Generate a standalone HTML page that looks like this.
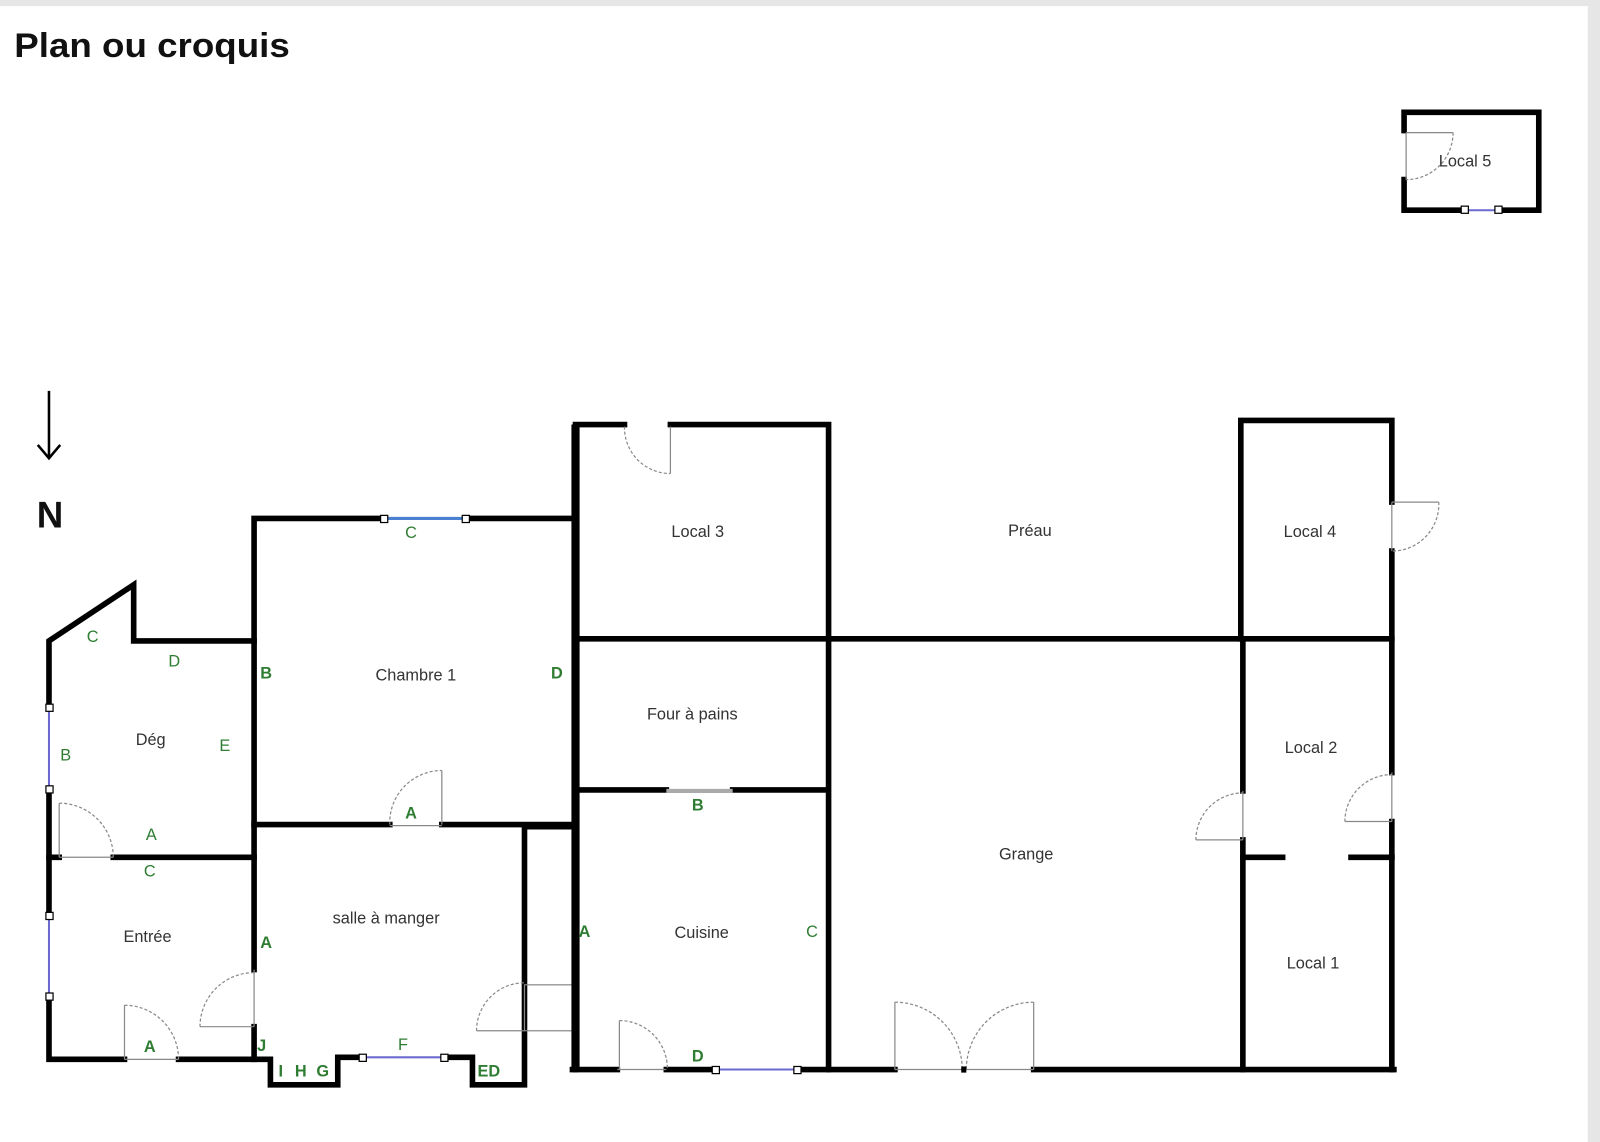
<!DOCTYPE html>
<html><head><meta charset="utf-8"><style>
html,body{margin:0;padding:0;background:#fff;}
svg{display:block;}
text{font-family:"Liberation Sans",sans-serif;}
.w{stroke:#000;stroke-width:5.5;fill:none;stroke-linecap:square;}
.d{stroke:#888;stroke-width:1.2;fill:none;}
.a{stroke:#888;stroke-width:1.2;fill:none;stroke-dasharray:3 2;}
.win{stroke:#6a6ad0;stroke-width:2;}
.h{fill:#fff;stroke:#000;stroke-width:1.2;}
.g{fill:#2e7d32;font-size:16px;}
.r{fill:#333;font-size:16px;}
</style></head><body>
<svg width="1600" height="1142" viewBox="0 0 1568 1119" preserveAspectRatio="none">
<rect x="0" y="0" width="1568" height="1119" fill="#fff"/>
<rect x="0" y="0" width="1568" height="6" fill="#e6e6e6"/>
<rect x="1556" y="0" width="12" height="1119" fill="#e6e6e6"/>
<text x="14" y="56" font-size="34" font-weight="bold" fill="#111" textLength="270" lengthAdjust="spacingAndGlyphs">Plan ou croquis</text>

<!-- north arrow -->
<line x1="48" y1="383" x2="48" y2="448" stroke="#000" stroke-width="2.5"/>
<polyline points="37,436 48,449 59,436" stroke="#000" stroke-width="2.5" fill="none"/>
<text x="36" y="517" font-size="36" font-weight="bold" fill="#111">N</text>

<!-- Local 5 -->
<path class="w" d="M1376,128 V110 H1508 V206 H1468 M1436,206 H1376 V176"/>
<line class="win" x1="1436" y1="206" x2="1468" y2="206"/>
<rect class="h" x="1432" y="202" width="7" height="7"/><rect class="h" x="1465" y="202" width="7" height="7"/>
<line class="d" x1="1378" y1="130" x2="1424" y2="130"/><line class="d" x1="1378" y1="130" x2="1378" y2="176"/>
<path class="a" d="M1424,130 A46,46 0 0 1 1378,176"/>
<text class="r" x="1410" y="163">Local 5</text>

<!-- Deg / Entree -->
<path class="w" d="M48,693 V628 L131,573 V628 H249"/>
<path class="w" d="M48,773 V897 M48,976 V1038 H122 M175,1038 H265 V1063 H331 V1036 H355"/>
<line class="win" x1="48" y1="693" x2="48" y2="773"/>
<line class="win" x1="48" y1="897" x2="48" y2="976"/>
<rect class="h" x="45" y="690" width="7" height="7"/><rect class="h" x="45" y="770" width="7" height="7"/>
<rect class="h" x="45" y="894" width="7" height="7"/><rect class="h" x="45" y="973" width="7" height="7"/>
<path class="w" d="M48,840 H58 M111,840 H249"/>
<line class="d" x1="58" y1="840" x2="111" y2="840"/><line class="d" x1="58" y1="840" x2="58" y2="787"/>
<path class="a" d="M58,787 A53,53 0 0 1 111,840"/>
<line class="d" x1="122" y1="1038" x2="175" y2="1038"/><line class="d" x1="122" y1="1038" x2="122" y2="985"/>
<path class="a" d="M122,985 A53,53 0 0 1 175,1038"/>

<!-- Chambre -->
<path class="w" d="M249,1038 V1006 M249,950 V508 H376 M456,508 H563"/>
<line x1="376" y1="508" x2="456" y2="508" stroke="#4a80d0" stroke-width="3"/>
<rect class="h" x="373" y="505" width="7" height="7"/><rect class="h" x="453" y="505" width="7" height="7"/>
<path class="w" d="M249,808 H382 M433,808 H563"/>
<line class="d" x1="382" y1="809" x2="433" y2="809" stroke="#aaa" stroke-width="3"/>
<line class="d" x1="433" y1="808" x2="433" y2="755"/>
<path class="a" d="M382,808 A51,51 0 0 1 433,755"/>
<line class="d" x1="249" y1="950" x2="249" y2="1006"/><line class="d" x1="249" y1="1006" x2="196" y2="1006"/>
<path class="a" d="M196,1006 A53,53 0 0 1 249,953"/>

<!-- salle bottom -->
<path class="w" d="M435,1036 H463 V1063 H514 V810 H563"/>
<line class="win" x1="355" y1="1036" x2="435" y2="1036"/>
<rect class="h" x="352" y="1033" width="7" height="7"/><rect class="h" x="432" y="1033" width="7" height="7"/>
<rect x="514" y="965" width="47" height="45" fill="none" stroke="#888" stroke-width="1.2"/>
<line class="d" x1="467" y1="1010" x2="514" y2="1010"/>
<path class="a" d="M467,1010 A47,47 0 0 1 514,963"/>

<!-- Local3 / Four / Cuisine -->
<path class="w" d="M564,1048 V416 H612 M657,416 H812 V1048"/>
<line x1="564" y1="416" x2="564" y2="1048" stroke="#000" stroke-width="8"/>
<line class="d" x1="657" y1="418" x2="657" y2="464"/>
<path class="a" d="M612,418 A45,45 0 0 0 657,464"/>
<path class="w" d="M564,626 H1364"/>
<path class="w" d="M564,774 H653 M718,774 H809"/>
<line x1="653" y1="775" x2="718" y2="775" stroke="#aaa" stroke-width="4"/>
<path class="w" d="M561,1048 H605 M653,1048 H701 M781,1048 H877 M1013,1048 H1366"/>
<line class="win" x1="701" y1="1048" x2="781" y2="1048"/>
<rect class="h" x="698" y="1045" width="7" height="7"/><rect class="h" x="778" y="1045" width="7" height="7"/>
<line class="d" x1="605" y1="1048" x2="653" y2="1048"/><line class="d" x1="607" y1="1048" x2="607" y2="1000"/>
<path class="a" d="M607,1000 A47,47 0 0 1 654,1047"/>
<line class="d" x1="877" y1="1048" x2="1013" y2="1048"/>
<line class="d" x1="877" y1="1048" x2="877" y2="982"/><line class="d" x1="1013" y1="1048" x2="1013" y2="982"/>
<path class="a" d="M877,982 A66,66 0 0 1 943,1048"/>
<path class="a" d="M1013,982 A66,66 0 0 0 947,1048"/>
<rect x="942" y="1045" width="5" height="6" fill="#000"/>

<!-- Local 4/2/1 -->
<path class="w" d="M1216,626 V412 H1364 V492 M1364,540 V757 M1364,805 V840"/>
<path class="w" d="M1218,626 V775 M1218,823 V1048 M1364,840 V1048"/>
<path class="w" d="M1218,840 H1257 M1324,840 H1364"/>
<line class="d" x1="1364" y1="492" x2="1410" y2="492"/><line class="d" x1="1364" y1="492" x2="1364" y2="540"/>
<path class="a" d="M1410,492 A46,46 0 0 1 1364,540"/>
<line class="d" x1="1218" y1="775" x2="1218" y2="823"/><line class="d" x1="1218" y1="823" x2="1172" y2="823"/>
<path class="a" d="M1172,823 A46,46 0 0 1 1218,777"/>
<line class="d" x1="1364" y1="757" x2="1364" y2="805"/><line class="d" x1="1364" y1="805" x2="1318" y2="805"/>
<path class="a" d="M1318,805 A46,46 0 0 1 1364,759"/>

<!-- room labels -->
<text class="r" x="133" y="730">Dég</text>
<text class="r" x="121" y="923">Entrée</text>
<text class="r" x="368" y="667">Chambre 1</text>
<text class="r" x="326" y="905">salle à manger</text>
<text class="r" x="658" y="526">Local 3</text>
<text class="r" x="634" y="705">Four à pains</text>
<text class="r" x="661" y="919">Cuisine</text>
<text class="r" x="988" y="525">Préau</text>
<text class="r" x="979" y="842">Grange</text>
<text class="r" x="1258" y="526">Local 4</text>
<text class="r" x="1259" y="738">Local 2</text>
<text class="r" x="1261" y="949">Local 1</text>

<!-- green letters -->
<text class="g" x="85" y="629">C</text>
<text class="g" x="165" y="653">D</text>
<text class="g" x="59" y="745">B</text>
<text class="g" x="215" y="736">E</text>
<text class="g" x="143" y="823">A</text>
<text class="g" x="141" y="859">C</text>
<text class="g" x="141" y="1031" font-weight="bold">A</text>
<text class="g" x="397" y="527">C</text>
<text class="g" x="255" y="665" font-weight="bold">B</text>
<text class="g" x="540" y="665" font-weight="bold">D</text>
<text class="g" x="397" y="802" font-weight="bold">A</text>
<text class="g" x="255" y="929" font-weight="bold">A</text>
<text class="g" x="252" y="1030" font-weight="bold">J</text>
<text class="g" x="273" y="1055" font-weight="bold">I</text>
<text class="g" x="289" y="1055" font-weight="bold">H</text>
<text class="g" x="310" y="1055" font-weight="bold">G</text>
<text class="g" x="390" y="1029">F</text>
<text class="g" x="468" y="1055" font-weight="bold">ED</text>
<text class="g" x="678" y="794" font-weight="bold">B</text>
<text class="g" x="567" y="918" font-weight="bold">A</text>
<text class="g" x="790" y="918">C</text>
<text class="g" x="678" y="1040" font-weight="bold">D</text>
</svg>
</body></html>
